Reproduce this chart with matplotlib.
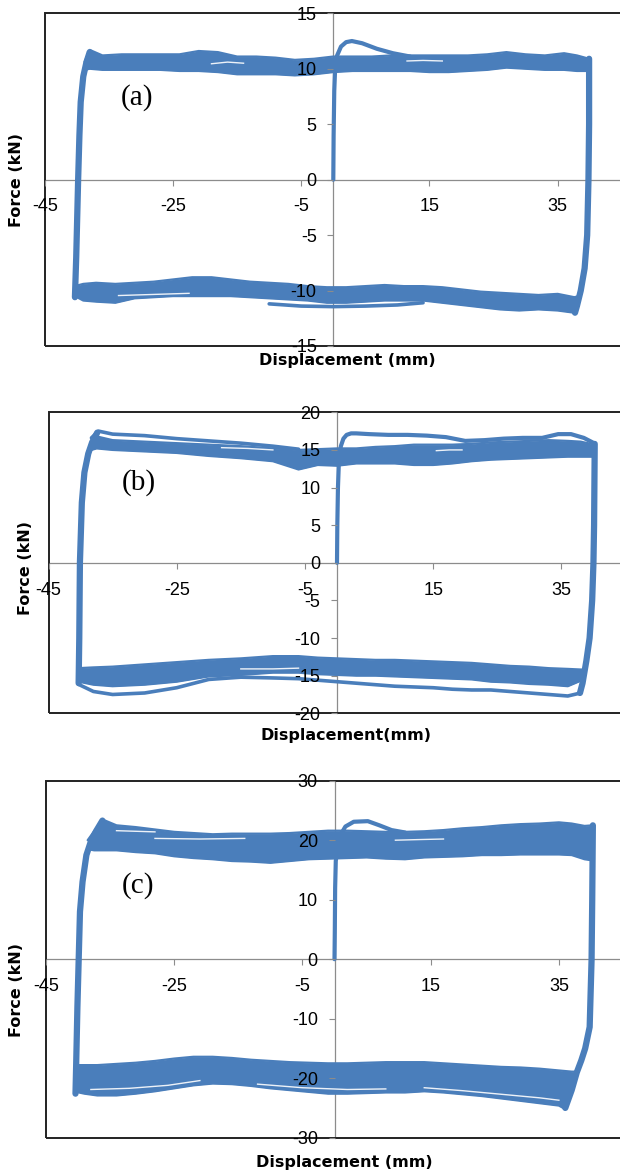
import matplotlib
matplotlib.use('Agg')
import matplotlib.pyplot as plt
from matplotlib.patches import Rectangle

plt.rcParams['font.family'] = 'Liberation Sans'
plt.rcParams['axes.unicode_minus'] = False

blue = '#4a7ebb'
x_ticks = [-45, -25, -5, 15, 35]

# panel (a)
yticks_a = [-15, -10, -5, 0, 5, 10, 15]
top_x_a = [-38.8, -38.0, -36, -33, -30, -27, -24, -21, -18, -15, -12, -9, -6, -3, 0,
           3, 6, 9, 12, 15, 18, 21, 24, 27, 30, 33, 36, 38, 39.9]
top_hi_a = [10.6, 11.7, 11.2, 11.3, 11.3, 11.3, 11.3, 11.6, 11.5, 11.1, 11.1, 11.0, 10.8, 10.9, 11.1,
            11.1, 11.1, 11.2, 11.2, 11.2, 11.2, 11.2, 11.3, 11.5, 11.3, 11.2, 11.4, 11.2, 10.9]
top_lo_a = [9.9, 10.0, 9.9, 9.9, 9.9, 9.9, 9.8, 9.8, 9.7, 9.5, 9.5, 9.5, 9.4, 9.5, 9.7,
            9.8, 9.8, 9.8, 9.8, 9.7, 9.7, 9.8, 9.9, 10.1, 10.0, 9.9, 9.9, 9.8, 9.8]
bot_x_a = [38.3, 37.6, 35, 32, 29, 26, 23, 20, 17, 14, 11, 8, 5, 2, -1,
           -4, -7, -10, -13, -16, -19, -22, -25, -28, -31, -34, -37, -39, -40.3]
bot_hi_a = [-10.5, -10.6, -10.3, -10.4, -10.3, -10.2, -10.1, -9.9, -9.7, -9.6, -9.6, -9.5, -9.6, -9.7, -9.7,
            -9.6, -9.4, -9.3, -9.2, -9.0, -8.8, -8.8, -9.0, -9.2, -9.3, -9.4, -9.3, -9.4, -9.6]
bot_lo_a = [-11.0, -12.0, -11.8, -11.7, -11.8, -11.7, -11.5, -11.3, -11.1, -10.9, -10.9, -10.9, -11.0, -11.1, -11.1,
            -10.9, -10.8, -10.7, -10.6, -10.5, -10.5, -10.5, -10.5, -10.6, -10.7, -11.1, -11.0, -10.9, -10.5]
left_x_a = [-40.3, -40.1, -39.8, -39.6, -39.4, -39.0, -38.5, -38.0]
left_y_a = [-10.6, -7, 0, 4, 7, 9.3, 10.6, 11.5]
right_x_a = [39.9, 39.9, 39.8, 39.6, 39.2, 38.6, 38.0, 37.7]
right_y_a = [10.9, 5, 0, -5, -8, -10, -11.4, -12.0]
init_x_a = [0, 0.05, 0.15, 0.3, 0.6, 1.2, 2.0, 2.9, 4.5, 6.8, 9.3, 12]
init_y_a = [0, 4, 8, 10.2, 11.2, 12.0, 12.4, 12.5, 12.3, 11.8, 11.4, 11.1]
extra_a = [([-10, -5, 0, 5, 10, 14], [-11.2, -11.4, -11.45, -11.4, -11.3, -11.1])]
gaps_a = [([-19, -16.5, -14], [10.45, 10.6, 10.5]),
          ([11.5, 14, 17], [10.7, 10.75, 10.7]),
          ([-33.5, -28, -22.5], [-10.45, -10.35, -10.25])]

# panel (b)
yticks_b = [-20, -15, -10, -5, 0, 5, 10, 15, 20]
top_x_b = [-38.3, -37.5, -35, -30, -25, -20, -15, -10, -6, -3, 0, 3, 6, 9, 12,
           15, 18, 21, 24, 27, 30, 33, 36, 38, 40.2]
top_hi_b = [15.8, 16.8, 16.3, 16.1, 15.9, 15.7, 15.5, 15.2, 15.0, 15.1, 15.2, 15.2, 15.4, 15.5, 15.7,
            15.7, 15.7, 15.8, 16.0, 16.1, 16.2, 16.3, 16.2, 16.1, 15.7]
top_lo_b = [15.0, 15.2, 15.0, 14.8, 14.6, 14.2, 13.9, 13.5, 12.4, 13.0, 12.9, 13.2, 13.2, 13.2, 13.0,
            13.0, 13.2, 13.5, 13.7, 13.8, 13.9, 14.0, 14.1, 14.1, 14.1]
bot_x_b = [38.5, 36, 33, 30, 27, 24, 21, 18, 15, 12, 9, 6, 3, 0, -3,
           -6, -10, -15, -20, -25, -30, -35, -38, -40.3]
bot_hi_b = [-14.2, -14.1, -14.0, -13.8, -13.7, -13.5, -13.3, -13.2, -13.1, -13.0, -12.9, -12.9, -12.8, -12.7, -12.6,
            -12.4, -12.4, -12.7, -12.9, -13.2, -13.5, -13.8, -13.9, -14.0]
bot_lo_b = [-15.5, -16.4, -16.2, -16.1, -15.9, -15.8, -15.5, -15.4, -15.3, -15.2, -15.1, -15.0, -15.0, -14.9, -14.8,
            -14.6, -14.6, -14.9, -15.1, -15.8, -16.2, -16.4, -16.2, -15.8]
left_x_b = [-40.3, -40.2, -40.1, -39.8, -39.4, -38.8, -38.2, -37.4]
left_y_b = [-16.0, -10, 0, 8, 12, 14.5, 16.0, 17.3]
right_x_b = [40.2, 40.1, 40.0, 39.8, 39.4, 38.9, 38.3, 37.9]
right_y_b = [15.8, 5, 0, -5, -10, -13, -16, -17.3]
init_x_b = [0, 0.05, 0.15, 0.3, 0.6, 1.0, 1.5, 2.2, 3.0, 5, 8, 11, 14, 17, 20,
            23, 26, 29, 32, 34.5, 36.5, 38.5, 40.1]
init_y_b = [0, 5, 10, 13.5, 15.5, 16.5, 17.0, 17.2, 17.2, 17.1, 17.0, 17.0, 16.9, 16.7, 16.2,
            16.3, 16.5, 16.6, 16.6, 17.1, 17.1, 16.6, 15.9]
extra_b = [([-38.3, -37.2, -35, -30, -25, -20, -15, -10, -6],
            [16.6, 17.5, 17.1, 16.9, 16.5, 16.2, 15.9, 15.5, 15.1]),
           ([38, 36, 33, 30, 27, 24, 21, 18, 15, 12, 9, 6, 3, 0, -3, -6, -10, -15, -20, -25, -30, -35, -38, -40.2],
            [-17.3, -17.7, -17.5, -17.3, -17.1, -16.9, -16.9, -16.8, -16.6, -16.5, -16.4, -16.2, -16.0, -15.8,
             -15.6, -15.4, -15.3, -15.2, -15.5, -16.6, -17.3, -17.5, -17.1, -16.2])]
gaps_b = [([15.5, 17.5, 19.5], [14.9, 15.0, 15.0]),
          ([-18, -14, -10], [15.3, 15.2, 15.0]),
          ([-15, -10, -6], [-14.1, -14.1, -14.0])]

# panel (c)
yticks_c = [-30, -20, -10, 0, 10, 20, 30]
top_x_c = [-38.5, -37.5, -36, -34, -31, -28, -25, -22, -19, -16, -13, -10, -7, -4, -1,
           2, 5, 8, 11, 14, 17, 20, 23, 26, 29, 32, 35, 37, 39, 40.3]
top_hi_c = [20.0, 21.5, 23.4, 22.5, 22.2, 21.8, 21.4, 21.2, 21.0, 21.1, 21.1, 21.1, 21.2, 21.4, 21.6,
            21.6, 21.5, 21.4, 21.4, 21.5, 21.7, 22.0, 22.2, 22.5, 22.7, 22.8, 23.0, 22.8, 22.4, 22.5]
top_lo_c = [18.5, 18.3, 18.3, 18.3, 18.0, 17.8, 17.3, 17.0, 16.8, 16.5, 16.4, 16.2, 16.5, 16.8, 16.9,
            17.0, 17.1, 16.9, 16.8, 17.1, 17.2, 17.3, 17.5, 17.5, 17.6, 17.6, 17.6, 17.5, 16.8, 16.6]
bot_x_c = [37.8, 37, 36, 35, 32, 29, 26, 23, 20, 17, 14, 11, 8, 5, 2,
           -1, -4, -7, -10, -13, -16, -19, -22, -25, -28, -31, -34, -37, -39, -40.3]
bot_hi_c = [-18.9, -18.9, -18.8, -18.7, -18.4, -18.2, -18.1, -17.9, -17.7, -17.5, -17.3, -17.3, -17.3, -17.4, -17.5,
            -17.5, -17.4, -17.3, -17.1, -16.9, -16.6, -16.4, -16.4, -16.7, -17.1, -17.4, -17.6, -17.8, -17.8, -17.8]
bot_lo_c = [-19.4, -22.2, -25.2, -24.6, -24.2, -23.8, -23.4, -23.0, -22.7, -22.4, -22.2, -22.4, -22.4, -22.5, -22.6,
            -22.6, -22.3, -22.0, -21.7, -21.3, -21.0, -20.9, -21.2, -21.7, -22.2, -22.6, -22.9, -22.9, -22.6, -22.3]
left_x_c = [-40.4, -40.3, -40.1, -39.9, -39.7, -39.3, -38.7, -38.0, -37.2, -36.2]
left_y_c = [-22.6, -18, -8, 0, 8, 13, 17.5, 19.8, 21.5, 23.3]
right_x_c = [40.3, 40.2, 40.1, 39.8, 39.1, 38.5, 37.8, 37.0, 36.0]
right_y_c = [22.5, 10, 0, -11.4, -15, -17, -19, -22, -25.0]
init_x_c = [0, 0.05, 0.1, 0.2, 0.5, 1.0, 1.7, 3.0, 5.2, 7.0, 8.9, 11]
init_y_c = [0, 5, 12, 16.5, 19.2, 21.0, 22.3, 23.1, 23.2, 22.5, 21.7, 21.3]
extra_c = []
gaps_c = [([-28, -21, -14], [20.3, 20.2, 20.3]),
          ([-34, -31, -28], [21.6, 21.5, 21.4]),
          ([9.5, 13, 17], [20.0, 20.1, 20.2]),
          ([-38, -32, -26, -21], [-21.9, -21.7, -21.2, -20.4]),
          ([-12, -5, 2, 8], [-21.0, -21.6, -21.9, -21.8]),
          ([14, 20, 26, 32, 35], [-21.6, -22.1, -22.7, -23.3, -23.7])]


def panel(ax, ylim, yticks, top, bot, left, right, init, extra, gaps):
    ax.set_xlim(-45, 45)
    ax.set_ylim(ylim)
    ax.set_xticks(x_ticks)
    ax.set_yticks(yticks)
    ax.spines['left'].set_position(('data', 0))
    ax.spines['bottom'].set_position(('data', 0))
    for s in ['left', 'bottom']:
        ax.spines[s].set_color('#8c8c8c')
        ax.spines[s].set_linewidth(0.9)
    ax.spines['top'].set_visible(False)
    ax.spines['right'].set_visible(False)
    ax.add_patch(Rectangle((0, 0), 1, 1, transform=ax.transAxes, fill=False,
                           ec='#222222', lw=1.4, clip_on=False, zorder=2.6))
    ax.tick_params(direction='out', length=4, width=0.8, color='#8c8c8c', labelsize=13)
    ax.tick_params(axis='x', pad=9.5)
    ax.tick_params(axis='y', pad=8)
    ax.xaxis.set_zorder(4)
    ax.yaxis.set_zorder(4)

    for xs, hi, lo in [top, bot]:
        ax.fill_between(xs, lo, hi, color=blue, lw=0, zorder=3)
        ax.plot(xs, hi, color=blue, lw=1.6, zorder=3, solid_capstyle='round')
        ax.plot(xs, lo, color=blue, lw=1.6, zorder=3, solid_capstyle='round')
    ax.plot(left[0], left[1], color=blue, lw=4.5, zorder=3, solid_capstyle='round')
    ax.plot(right[0], right[1], color=blue, lw=4.5, zorder=3, solid_capstyle='round')
    ax.plot(init[0], init[1], color=blue, lw=3, zorder=3, solid_capstyle='round')
    for xs, ys in extra:
        ax.plot(xs, ys, color=blue, lw=2.6, zorder=3, solid_capstyle='round')
    for xs, ys in gaps:
        ax.plot(xs, ys, color='white', lw=1.0, zorder=3.1, alpha=0.9)


W, H = 620, 1172
fig = plt.figure(figsize=(6.2, 11.72), dpi=100)

ax1 = fig.add_axes([44.8 / W, (H - 346) / H, 577 / W, 332.7 / H])
panel(ax1, (-15, 15), yticks_a, (top_x_a, top_hi_a, top_lo_a), (bot_x_a, bot_hi_a, bot_lo_a),
      (left_x_a, left_y_a), (right_x_a, right_y_a), (init_x_a, init_y_a), extra_a, gaps_a)

ax2 = fig.add_axes([48.5 / W, (H - 713.3) / H, 577 / W, 301 / H])
panel(ax2, (-20, 20), yticks_b, (top_x_b, top_hi_b, top_lo_b), (bot_x_b, bot_hi_b, bot_lo_b),
      (left_x_b, left_y_b), (right_x_b, right_y_b), (init_x_b, init_y_b), extra_b, gaps_b)

ax3 = fig.add_axes([46 / W, (H - 1137.7) / H, 577 / W, 357 / H])
panel(ax3, (-30, 30), yticks_c, (top_x_c, top_hi_c, top_lo_c), (bot_x_c, bot_hi_c, bot_lo_c),
      (left_x_c, left_y_c), (right_x_c, right_y_c), (init_x_c, init_y_c), extra_c, gaps_c)

lab = dict(fontfamily='DejaVu Sans', fontweight='bold', fontsize=11.5, ha='center', va='center')
fig.text(16.6 / W, 1 - 180 / H, 'Force (kN)', rotation=90, **lab)
fig.text(25.7 / W, 1 - 568 / H, 'Force (kN)', rotation=90, **lab)
fig.text(16.6 / W, 1 - 990 / H, 'Force (kN)', rotation=90, **lab)
fig.text(347.5 / W, 1 - 360 / H, 'Displacement (mm)', **lab)
fig.text(346 / W, 1 - 735.5 / H, 'Displacement(mm)', **lab)
fig.text(344 / W, 1 - 1162.5 / H, 'Displacement (mm)', **lab)

pl = dict(fontfamily='Liberation Serif', fontsize=21, ha='center', va='center')
fig.text(137 / W, 1 - 98 / H, '(a)', **pl)
fig.text(138.4 / W, 1 - 482.5 / H, '(b)', **pl)
fig.text(137.6 / W, 1 - 885.7 / H, '(c)', **pl)

fig.savefig('out.png', dpi=100)
